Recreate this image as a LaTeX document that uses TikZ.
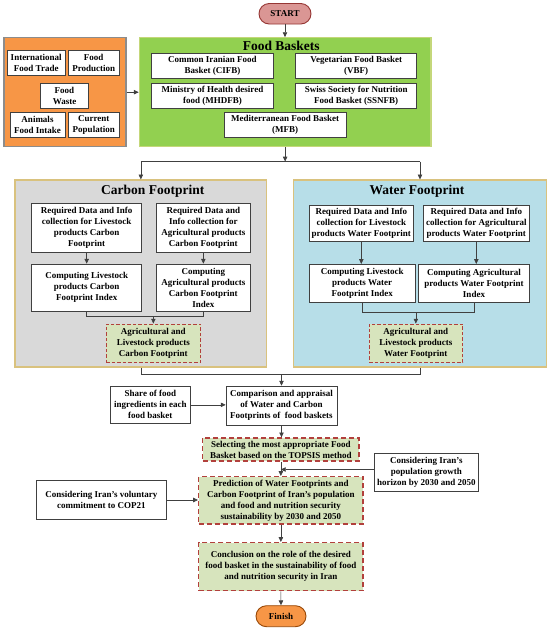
\documentclass[tikz,border=0pt]{standalone}
\usepackage{fontspec}
\setmainfont{Liberation Serif}
\usetikzlibrary{arrows.meta,shapes.misc}
\definecolor{orangeF}{HTML}{F79646}
\definecolor{orangeD}{HTML}{8C8C8C}
\definecolor{greenF}{HTML}{92D050}
\definecolor{greenD}{HTML}{C4D77A}
\definecolor{grayF}{HTML}{D9D9D9}
\definecolor{tanD}{HTML}{D9C27E}
\definecolor{blueF}{HTML}{B7DEE8}
\definecolor{resF}{HTML}{D7E4BD}
\definecolor{resD}{HTML}{B2403C}
\definecolor{startF}{HTML}{DA9694}
\definecolor{startD}{HTML}{963634}
\definecolor{finD}{HTML}{984807}
\definecolor{lineC}{HTML}{404040}
\tikzset{
  txt/.style={font=\bfseries\fontsize{9}{11}\selectfont, align=center},
  box/.style={txt, draw=lineC, fill=white, line width=0.7pt, inner sep=0pt},
  resbox/.style={txt, draw=resD, fill=resF, dashed, dash pattern=on 3.5pt off 2pt, line width=0.9pt, inner sep=0pt},
  resbig/.style={resbox, line width=1.4pt, dash pattern=on 5pt off 3pt},
  container/.style={line width=1.2pt, inner sep=0pt},
  ttl/.style={font=\bfseries\fontsize{13.5}{16}\selectfont},
  terminal/.style={txt, rounded rectangle, line width=0.9pt, inner sep=0pt},
  arr/.style={draw=lineC, line width=0.6pt, -{Triangle[length=4.8pt,width=4.4pt]}},
  ln/.style={draw=lineC, line width=0.6pt},
}
\begin{document}
\begin{tikzpicture}[x=1pt,y=-1pt]
\useasboundingbox[fill=white] (0,0) rectangle (550,630);

% START
\node[terminal, fill=startF, draw=startD, minimum width=52pt, minimum height=20.5pt] (start) at (285,13.75) {START};

% Orange group
\node[container, draw=orangeD, fill=orangeF, minimum width=122pt, minimum height=109pt] (orange) at (65,92.2) {};
\node[box, minimum width=57.5pt, minimum height=24.5pt] (ift) at (36.25,62.75) {International\\Food Trade};
\node[box, minimum width=50.5pt, minimum height=24.5pt] (fp) at (93.75,62.75) {Food\\Production};
\node[box, minimum width=47.6pt, minimum height=25pt] (fw) at (64.5,95.8) {Food\\Waste};
\node[box, minimum width=55pt, minimum height=24.6pt] (afi) at (37.5,125) {Animals\\Food Intake};
\node[box, minimum width=50.5pt, minimum height=24.6pt] (cp) at (93.75,125) {Current\\Population};

% Green group
\node[container, draw=greenD, fill=greenF, minimum width=291.7pt, minimum height=109pt] (green) at (285.15,92.2) {};
\node[ttl] (fbt) at (281.2,46) {Food Baskets};
\node[box, minimum width=121.6pt, minimum height=25pt] (cifb) at (212.5,65.8) {Common Iranian Food\\Basket (CIFB)};
\node[box, minimum width=121pt, minimum height=25pt] (vbf) at (356.2,65.8) {Vegetarian Food Basket\\(VBF)};
\node[box, minimum width=121.6pt, minimum height=25pt] (mhdfb) at (212.5,95.8) {Ministry of Health desired\\food (MHDFB)};
\node[box, minimum width=121pt, minimum height=25pt] (ssnfb) at (356.2,95.8) {Swiss Society for Nutrition\\Food Basket (SSNFB)};
\node[box, minimum width=121.7pt, minimum height=24.6pt] (mfb) at (285.15,125) {Mediterranean Food Basket\\(MFB)};

% Carbon group
\node[container, draw=tanD, fill=grayF, minimum width=251.7pt, minimum height=187pt] (carbon) at (140.85,273.5) {};
\node[ttl] (cft) at (152.8,191) {Carbon Footprint};
\node[box, minimum width=110pt, minimum height=49pt] (crl) at (86.7,227.5) {Required Data and Info\\collection for Livestock\\products Carbon\\Footprint};
\node[box, minimum width=94.7pt, minimum height=49pt] (cra) at (203.35,227.5) {Required Data and\\Info collection for\\Agricultural products\\Carbon Footprint};
\node[box, minimum width=110pt, minimum height=47pt] (ccl) at (86.7,287.5) {Computing Livestock\\products Carbon\\Footprint Index};
\node[box, minimum width=94.7pt, minimum height=47pt] (cca) at (203.35,287.5) {Computing\\Agricultural products\\Carbon Footprint\\Index};
\node[resbox, minimum width=94.7pt, minimum height=38.7pt] (cres) at (153.35,343.35) {Agricultural and\\Livestock products\\Carbon Footprint};

% Water group
\node[container, draw=tanD, fill=blueF, minimum width=253.4pt, minimum height=187pt] (water) at (420,273.5) {};
\node[ttl] (wft) at (417,191.5) {Water Footprint};
\node[box, minimum width=104pt, minimum height=35.3pt] (wrl) at (361.3,223.35) {Required Data and Info\\collection for Livestock\\products Water Footprint};
\node[box, minimum width=106pt, minimum height=35.3pt] (wra) at (476.3,223.35) {Required Data and Info\\collection for Agricultural\\products Water Footprint};
\node[box, minimum width=105.7pt, minimum height=38.4pt] (wcl) at (362.15,283.5) {Computing Livestock\\products Water\\Footprint Index};
\node[box, minimum width=110.6pt, minimum height=38.4pt] (wca) at (474,283.5) {Computing Agricultural\\products Water Footprint\\Index};
\node[resbox, minimum width=93.7pt, minimum height=38.7pt] (wres) at (415.85,343.35) {Agricultural and\\Livestock products\\Water Footprint};

% Lower part
\node[box, minimum width=79.3pt, minimum height=36.3pt] (share) at (150.35,404.85) {Share of food\\ingredients in each\\food basket};
\node[box, minimum width=111pt, minimum height=39pt] (comp) at (281.5,405.5) {Comparison and appraisal\\of Water and Carbon\\Footprints of~ food baskets};
\node[resbig, minimum width=156.3pt, minimum height=23pt] (sel) at (280.85,449.5) {Selecting the most appropriate Food\\Basket based on the TOPSIS method};
\node[box, minimum width=104.7pt, minimum height=38pt] (pop) at (426.35,472) {Considering Iran's\\population growth\\horizon by 2030 and 2050};
\node[resbig, minimum width=164.3pt, minimum height=47.3pt] (pred) at (280.85,500.35) {Prediction of Water Footprints and\\Carbon Footprint of Iran's population\\and food and nutrition security\\sustainability by 2030 and 2050};
\node[box, minimum width=129.3pt, minimum height=38.6pt] (cop) at (101.35,500) {Considering Iran's voluntary\\commitment to COP21};
\node[resbig, minimum width=164.3pt, minimum height=48pt] (concl) at (280.85,566.7) {Conclusion on the role of the desired\\food basket in the sustainability of food\\and nutrition security in Iran};
\node[terminal, fill=orangeF, draw=finD, minimum width=50pt, minimum height=21pt] (finish) at (281,616.2) {Finish};

% Connectors
\draw[arr] (start.south) -- (start.south |- green.north);
\draw[arr] (orange.east) -- (green.west);
\coordinate (j1) at (285.15,161.5);
\draw[arr] (green.south) -- (j1);
\draw[ln] (carbon.north |- j1) -- (water.north |- j1);
\draw[arr] (carbon.north |- j1) -- (carbon.north);
\draw[arr] (water.north |- j1) -- (water.north);

\draw[arr] (crl.south) -- (ccl.north);
\draw[arr] (cra.south) -- (cca.north);
\coordinate (cj) at (153.35,316.5);
\draw[ln] (ccl.south) -- (ccl.south |- cj) -- (cca.south |- cj) -- (cca.south);
\draw[arr] (cj) -- (cres.north);

\draw[arr] (wrl.south) -- (wrl.south |- wcl.north);
\draw[arr] (wra.south) -- (wra.south |- wca.north);
\coordinate (wj) at (415.85,312.7);
\draw[ln] (wcl.south) -- (wcl.south |- wj) -- (wca.south |- wj) -- (wca.south);
\draw[arr] (wj) -- (wres.north);

\coordinate (bj) at (281.5,374);
\draw[ln] (carbon.south) -- (carbon.south |- bj) -- (water.south |- bj) -- (water.south);
\draw[arr] (bj) -- (comp.north);
\draw[arr] (share.east) -- (share.east -| comp.west);
\draw[arr] (comp.south) -- (comp.south |- sel.north);
\draw[arr] (sel.south) -- (pred.north);
\draw[arr] ([yshift=2.5pt]pop.west) -- ([yshift=2.5pt]pop.west -| sel.south);
\draw[arr] (cop.east) -- (cop.east -| pred.west);
\draw[arr] (pred.south) -- (concl.north);
\draw[arr] (concl.south) -- (finish.north);
\end{tikzpicture}
\end{document}
